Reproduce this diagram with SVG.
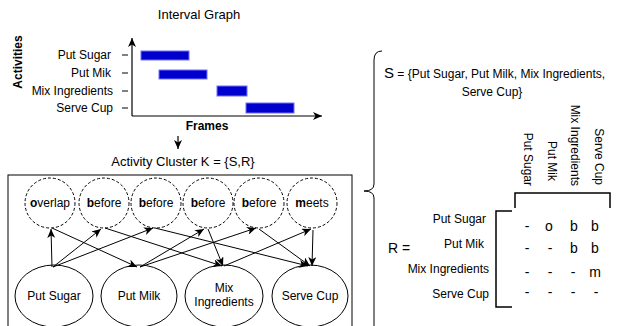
<svg xmlns="http://www.w3.org/2000/svg" width="622" height="326" viewBox="0 0 622 326">
<defs>
<marker id="arr" markerWidth="9" markerHeight="8" refX="9" refY="4" orient="auto" markerUnits="userSpaceOnUse">
<path d="M0,0 L9,4 L0,8 L2.5,4 z" fill="#000"/>
</marker>
<style>
text{font-family:"Liberation Sans",Arial,sans-serif;fill:#000}
.t12{font-size:12px}
.bar{fill:#0000cc;stroke:#7070ff;stroke-width:1}
.ax{stroke:#000;stroke-width:1.2;fill:none}
.rel{fill:#fff;stroke:#000;stroke-width:1;stroke-dasharray:3,2}
.act{fill:#fff;stroke:#000;stroke-width:1}
.edge{stroke:#000;stroke-width:1;fill:none;marker-end:url(#arr)}
.mx{font-size:14px;text-anchor:middle}
.b{font-weight:bold}
</style>
</defs>
<rect width="622" height="326" fill="#fff"/>

<g id="interval-graph">
<text x="199" y="19" font-size="13" text-anchor="middle">Interval Graph</text>
<line class="ax" x1="132" y1="116" x2="132" y2="38" marker-end="url(#arr)"/>
<line class="ax" x1="132" y1="116" x2="322" y2="116" marker-end="url(#arr)"/>
<g stroke="#000" stroke-width="1">
<line x1="122" y1="55" x2="128" y2="55"/>
<line x1="122" y1="73" x2="128" y2="73"/>
<line x1="122" y1="91" x2="128" y2="91"/>
<line x1="122" y1="108" x2="128" y2="108"/>
</g>
<text class="t12" x="111" y="59" text-anchor="end">Put Sugar</text>
<text class="t12" x="111" y="77" text-anchor="end">Put Mik</text>
<text class="t12" x="113" y="95" text-anchor="end">Mix Ingredients</text>
<text class="t12" x="113" y="112" text-anchor="end">Serve Cup</text>
<rect class="bar" x="141" y="51" width="48" height="9"/>
<rect class="bar" x="159" y="70" width="48" height="9"/>
<rect class="bar" x="217" y="86" width="30" height="10"/>
<rect class="bar" x="246" y="103" width="48" height="10"/>
<text class="t12 b" transform="translate(22,62) rotate(-90)" text-anchor="middle">Activities</text>
<text class="t12 b" x="207" y="130" text-anchor="middle">Frames</text>
<line class="ax" x1="178" y1="136" x2="178" y2="149" marker-end="url(#arr)" stroke-width="1"/>
<text x="183" y="166" font-size="13" text-anchor="middle">Activity Cluster K = {S,R}</text>
</g>

<rect id="cluster-box" x="8" y="175" width="344" height="160" fill="none" stroke="#000" stroke-width="1"/>

<g id="rel-overlap"><circle class="rel" cx="50" cy="203" r="25"/><text class="t12" x="50" y="207" text-anchor="middle"><tspan class="b">o</tspan>verlap</text></g>
<g id="rel-before1"><circle class="rel" cx="104" cy="203" r="25"/><text class="t12" x="104" y="207" text-anchor="middle"><tspan class="b">b</tspan>efore</text></g>
<g id="rel-before2"><circle class="rel" cx="156" cy="203" r="25"/><text class="t12" x="156" y="207" text-anchor="middle"><tspan class="b">b</tspan>efore</text></g>
<g id="rel-before3"><circle class="rel" cx="208" cy="203" r="25"/><text class="t12" x="208" y="207" text-anchor="middle"><tspan class="b">b</tspan>efore</text></g>
<g id="rel-before4"><circle class="rel" cx="259" cy="203" r="25"/><text class="t12" x="259" y="207" text-anchor="middle"><tspan class="b">b</tspan>efore</text></g>
<g id="rel-meets"><circle class="rel" cx="312" cy="203" r="25"/><text class="t12" x="312" y="207" text-anchor="middle"><tspan class="b">m</tspan>eets</text></g>

<g id="act-put-sugar"><ellipse class="act" cx="54" cy="296" rx="39" ry="31"/><text class="t12" x="54" y="300" text-anchor="middle">Put Sugar</text></g>
<g id="act-put-milk"><ellipse class="act" cx="139" cy="296" rx="38" ry="31"/><text class="t12" x="139" y="300" text-anchor="middle">Put Milk</text></g>
<g id="act-mix"><ellipse class="act" cx="224" cy="296" rx="39" ry="31"/><text class="t12" x="224" y="292" text-anchor="middle">Mix</text><text class="t12" x="224" y="306" text-anchor="middle">Ingredients</text></g>
<g id="act-serve-cup"><ellipse class="act" cx="310" cy="296" rx="38" ry="31"/><text class="t12" x="310" y="300" text-anchor="middle">Serve Cup</text></g>

<g id="connectors">
<line class="edge" x1="52" y1="267" x2="51" y2="229"/>
<line class="edge" x1="53" y1="267" x2="101" y2="229"/>
<line class="edge" x1="53" y1="267" x2="153" y2="228"/>
<line class="edge" x1="52" y1="228" x2="137" y2="267"/>
<line class="edge" x1="105" y1="228" x2="222" y2="266"/>
<line class="edge" x1="155" y1="228" x2="308" y2="266"/>
<line class="edge" x1="140" y1="267" x2="204" y2="229"/>
<line class="edge" x1="140" y1="267" x2="256" y2="228"/>
<line class="edge" x1="208" y1="229" x2="223" y2="266"/>
<line class="edge" x1="224" y1="266" x2="311" y2="229"/>
<line class="edge" x1="259" y1="229" x2="310" y2="266"/>
<line class="edge" x1="313" y1="230" x2="312" y2="266"/>
</g>

<g id="definition">
<path d="M382,51 Q374,51 374,60 L374,184 Q374,191 364,191 Q374,191 374,198 L374,330" fill="none" stroke="#000" stroke-width="1"/>
<text x="384" y="78" font-size="12"><tspan font-size="15">S</tspan> = {Put Sugar, Put Milk, Mix Ingredients,</text>
<text class="t12" x="492" y="96" text-anchor="middle">Serve Cup}</text>
<text class="t12" transform="translate(524,186) rotate(90)" text-anchor="end">Put Sugar</text>
<text class="t12" transform="translate(548,181) rotate(90)" text-anchor="end">Put Mik</text>
<text class="t12" transform="translate(571,186) rotate(90)" text-anchor="end">Mix Ingredients</text>
<text class="t12" transform="translate(595,185) rotate(90)" text-anchor="end">Serve Cup</text>
<path d="M515,208 L515,193 L610,193 L610,208" fill="none" stroke="#000" stroke-width="1.5"/>
<path d="M512,211 L496,211 L496,307 L512,307" fill="none" stroke="#000" stroke-width="1.5"/>
<text x="388" y="253" font-size="14">R =</text>
<text class="t12" x="486" y="223" text-anchor="end">Put Sugar</text>
<text class="t12" x="484" y="248" text-anchor="end">Put Mik</text>
<text class="t12" x="489" y="273" text-anchor="end">Mix Ingredients</text>
<text class="t12" x="489" y="298" text-anchor="end">Serve Cup</text>
<g class="mx">
<text x="527" y="231">-</text><text x="549" y="231">o</text><text x="574" y="231">b</text><text x="595" y="231">b</text>
<text x="527" y="253">-</text><text x="550" y="253">-</text><text x="574" y="253">b</text><text x="595" y="253">b</text>
<text x="527" y="277">-</text><text x="550" y="277">-</text><text x="573" y="277">-</text><text x="595" y="277">m</text>
<text x="527" y="297">-</text><text x="550" y="297">-</text><text x="573" y="297">-</text><text x="596" y="297">-</text>
</g>
</g>
</svg>
